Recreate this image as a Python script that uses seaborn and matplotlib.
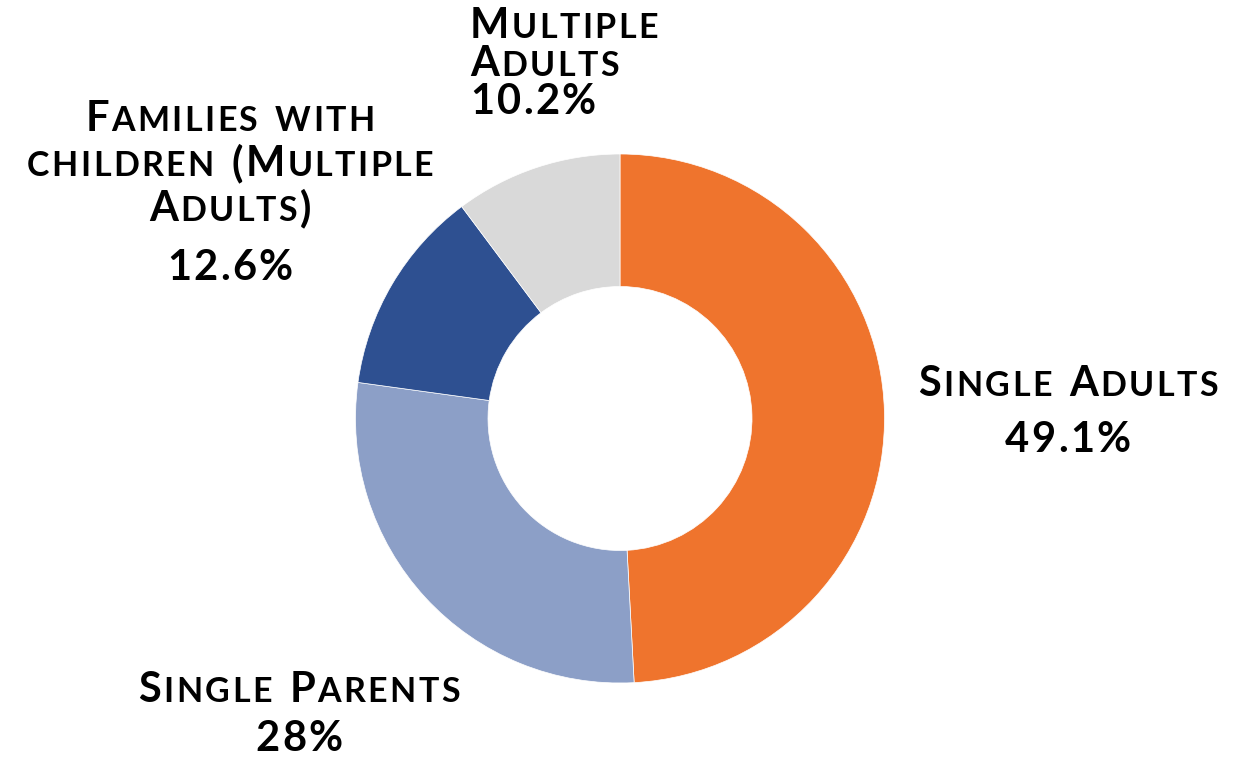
import matplotlib
matplotlib.use('Agg')
import matplotlib.pyplot as plt
import seaborn as sns

groups = ['Single Adults', 'Single Parents',
          'Families with children (Multiple Adults)', 'Multiple Adults']
shares = [49.1, 28, 12.6, 10.2]
share_labels = ['49.1%', '28%', '12.6%', '10.2%']
group_colors = ['#EF742D', '#8C9FC7', '#2E5091', '#D9D9D9']

# label text split over lines as in the picture
label_lines = [
    ['Single Adults', '49.1%'],
    ['Single Parents', '28%'],
    ['Families with', 'children (Multiple', 'Adults)', '12.6%'],
    ['Multiple', 'Adults', '10.2%'],
]

sns.set_theme(style='white')
plt.rcParams['font.family'] = ['Lato', 'DejaVu Sans']

W, H = 1253, 760
fig = plt.figure(figsize=(W / 100, H / 100), dpi=100)
ax = fig.add_axes([0, 0, 1, 1])

cx, cy = 620, 418.5
r_out, r_in = 264.5, 132
ax.pie(shares, colors=group_colors, startangle=90, counterclock=False,
       center=(cx, H - cy), radius=r_out, normalize=True,
       wedgeprops=dict(width=r_out - r_in, edgecolor='white', linewidth=0.5))
ax.set_xlim(0, W)
ax.set_ylim(0, H)
ax.set_aspect('equal')
ax.axis('off')

renderer = fig.canvas.get_renderer()
BIG, SMALL = 30, 24.5
TRACK = 2.4
SPACE = 13


def small_caps(x, y, line, ha='center'):
    # draw one line as bold small caps, y is baseline in image coords
    items = []
    for ch in line:
        if ch == ' ':
            items.append((None, SPACE))
            continue
        size = SMALL if ch.islower() else BIG
        t = ax.text(0, H - y, ch.upper(), fontsize=size, fontweight='bold',
                    color='black', va='baseline', ha='left')
        w = t.get_window_extent(renderer).width
        items.append((t, w))
    total = sum(w for _, w in items) + TRACK * (len(items) - 1)
    pos = x - total / 2 if ha == 'center' else x
    for t, w in items:
        if t is not None:
            t.set_x(pos)
        pos += w + TRACK


# label anchors (image pixel coords: x, first baseline, line step, align)
anchors = [
    (1068, 396, 56, 'center'),
    (299, 702, 49, 'center'),
    (230, 131, 45, 'center'),
    (470, 38, 38, 'left'),
]
for lines, (lx, ly, step, ha) in zip(label_lines, anchors):
    y = ly
    for i, line in enumerate(lines):
        if lines is label_lines[2] and i == 3:
            y += 14
        small_caps(lx, y, line, ha)
        y += step

fig.savefig('out.png', dpi=100, facecolor='white')
